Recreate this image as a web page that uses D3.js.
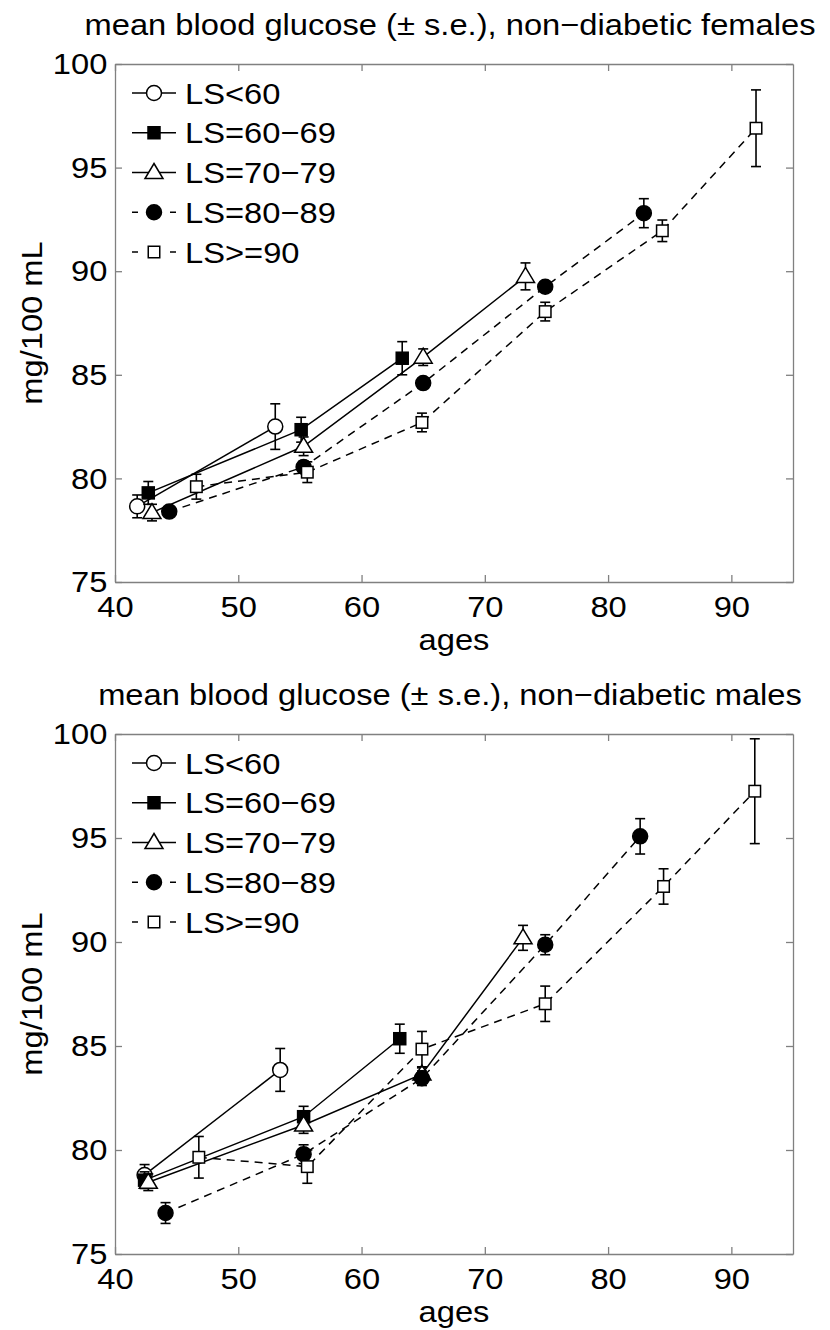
<!DOCTYPE html>
<html>
<head>
<meta charset="utf-8">
<script src="https://cdn.jsdelivr.net/npm/d3@7"></script>
<style>
  body { margin: 0; background: #fff; }
  text { font-family: "Liberation Sans", Arial, Helvetica, sans-serif; fill: #000; }
  .axis path, .axis line { stroke: #808080; stroke-width: 1.3; }
  .axis text { font-size: 30px; fill: #000; transform: scaleX(1.09); }
</style>
</head>
<body>
<script>
// legend labels, one per life-span group
var seriesNames = ["LS<60", "LS=60\u221269", "LS=70\u221279", "LS=80\u221289", "LS>=90"];
var seriesDashed = [false, false, false, true, true];
var seriesMarker = ["circleOpen", "squareFilled", "triangleOpen", "circleFilled", "squareOpen"];

var xTicks = [40, 50, 60, 70, 80, 90];
var yTicks = [75, 80, 85, 90, 95, 100];

// females
var femAges = [
  [41.8, 53.0],
  [42.7, 55.1, 63.3],
  [43.0, 55.3, 65.0, 73.3],
  [44.4, 55.3, 65.0, 74.9, 82.9],
  [46.6, 55.6, 64.9, 74.9, 84.4, 92.0]
];
var femMean = [
  [78.65, 82.5],
  [79.3, 82.35, 85.8],
  [78.35, 81.55, 85.85, 89.75],
  [78.4, 80.55, 84.6, 89.25, 92.8],
  [79.6, 80.3, 82.7, 88.05, 91.95, 96.9]
];
var femSe = [
  [0.55, 1.1],
  [0.55, 0.6, 0.8],
  [0.4, 0.45, 0.4, 0.65],
  [0.2, 0.3, 0.25, 0.25, 0.7],
  [0.6, 0.5, 0.45, 0.45, 0.52, 1.85]
];

// males
var maleAges = [
  [42.4, 53.4],
  [42.4, 55.3, 63.1],
  [42.7, 55.3, 64.9, 73.1],
  [44.1, 55.3, 64.9, 74.9, 82.6],
  [46.8, 55.6, 64.9, 74.9, 84.5, 91.9]
];
var maleMean = [
  [78.8, 83.85],
  [78.55, 81.6, 85.35],
  [78.45, 81.2, 83.65, 90.2],
  [76.97, 79.8, 83.45, 89.87, 95.08],
  [79.65, 79.2, 84.85, 87.03, 92.67, 97.25]
];
var maleSe = [
  [0.5, 1.03],
  [0.4, 0.5, 0.7],
  [0.4, 0.4, 0.3, 0.6],
  [0.5, 0.45, 0.35, 0.48, 0.85],
  [1.0, 0.8, 0.85, 0.85, 0.85, 2.52]
];

var width = 830, height = 1330;
var stretch = 1.09; // the original lettering is a bit wider than Arial

var svg = d3.select("body").append("svg")
    .attr("width", width)
    .attr("height", height);

function label(x, y, str, anchor, rot) {
  return svg.append("text")
      .attr("transform", "translate(" + x + "," + y + ")" + (rot ? " rotate(" + rot + ")" : "") + " scale(" + stretch + ",1)")
      .attr("text-anchor", anchor)
      .style("font-size", "30px")
      .text(str);
}

function drawMarker(g, type, cx, cy) {
  if (type === "circleOpen" || type === "circleFilled") {
    g.append("circle")
      .attr("cx", cx).attr("cy", cy).attr("r", 7.5)
      .attr("fill", type === "circleFilled" ? "#000" : "#fff")
      .attr("stroke", "#000").attr("stroke-width", 1.5);
  } else if (type === "squareFilled" || type === "squareOpen") {
    var s = type === "squareFilled" ? 12 : 11.5;
    g.append("rect")
      .attr("x", cx - s / 2).attr("y", cy - s / 2)
      .attr("width", s).attr("height", s)
      .attr("fill", type === "squareFilled" ? "#000" : "#fff")
      .attr("stroke", "#000").attr("stroke-width", 1.5);
  } else {
    g.append("path")
      .attr("d", "M" + cx + "," + (cy - 9) + "L" + (cx + 9) + "," + (cy + 6) + "L" + (cx - 9) + "," + (cy + 6) + "Z")
      .attr("fill", "#fff")
      .attr("stroke", "#000").attr("stroke-width", 1.5);
  }
}

function drawPanel(top, bottom, title, ages, means, ses) {
  var left = 115, right = 793;

  var x = d3.scaleLinear().domain([40, 95]).range([left, right]);
  var y = d3.scaleLinear().domain([75, 100]).range([bottom, top]);

  label(450, top - 29, title, "middle");

  // axes, ticks pointing inward on all four sides
  svg.append("g")
      .attr("class", "axis")
      .attr("transform", "translate(0," + bottom + ")")
      .call(d3.axisBottom(x).tickValues(xTicks).tickSizeInner(-7).tickSizeOuter(0).tickPadding(14));

  svg.append("g")
      .attr("class", "axis")
      .attr("transform", "translate(0," + top + ")")
      .call(d3.axisTop(x).tickValues(xTicks).tickSizeInner(-7).tickSizeOuter(0).tickFormat(""));

  svg.append("g")
      .attr("class", "axis")
      .attr("transform", "translate(" + left + ",0)")
      .call(d3.axisLeft(y).tickValues(yTicks).tickSizeInner(-7).tickSizeOuter(0).tickPadding(7));

  svg.append("g")
      .attr("class", "axis")
      .attr("transform", "translate(" + right + ",0)")
      .call(d3.axisRight(y).tickValues(yTicks).tickSizeInner(-7).tickSizeOuter(0).tickFormat(""));

  // axis labels
  label((left + right) / 2, bottom + 68, "ages", "middle");
  svg.append("text")
      .attr("transform", "translate(42," + ((top + bottom) / 2) + ") rotate(-90) scale(" + stretch + ",1)")
      .attr("text-anchor", "middle")
      .style("font-size", "30px")
      .text("mg/100 mL");

  // series
  seriesNames.forEach(function(name, i) {
    var pts = ages[i].map(function(a, j) { return [a, means[i][j], ses[i][j]]; });
    var g = svg.append("g");

    g.append("path")
      .datum(pts)
      .attr("fill", "none")
      .attr("stroke", "#000")
      .attr("stroke-width", 1.5)
      .attr("stroke-dasharray", seriesDashed[i] ? "8,6" : null)
      .attr("d", d3.line()
                   .x(function(d) { return x(d[0]); })
                   .y(function(d) { return y(d[1]); }));

    // error bars
    pts.forEach(function(d) {
      var cx = x(d[0]), y1 = y(d[1] + d[2]), y2 = y(d[1] - d[2]);
      g.append("line").attr("x1", cx).attr("x2", cx).attr("y1", y1).attr("y2", y2)
        .attr("stroke", "#000").attr("stroke-width", 1.6);
      g.append("line").attr("x1", cx - 5).attr("x2", cx + 5).attr("y1", y1).attr("y2", y1)
        .attr("stroke", "#000").attr("stroke-width", 1.6);
      g.append("line").attr("x1", cx - 5).attr("x2", cx + 5).attr("y1", y2).attr("y2", y2)
        .attr("stroke", "#000").attr("stroke-width", 1.6);
    });

    pts.forEach(function(d) {
      drawMarker(g, seriesMarker[i], x(d[0]), y(d[1]));
    });
  });

  // legend
  seriesNames.forEach(function(name, i) {
    var ly = top + 29 + i * 39.75;
    var lg = svg.append("g");
    if (seriesDashed[i]) {
      lg.append("line").attr("x1", 132).attr("x2", 138).attr("y1", ly).attr("y2", ly)
        .attr("stroke", "#000").attr("stroke-width", 1.5);
      lg.append("line").attr("x1", 170).attr("x2", 176).attr("y1", ly).attr("y2", ly)
        .attr("stroke", "#000").attr("stroke-width", 1.5);
    } else {
      lg.append("line").attr("x1", 132).attr("x2", 176).attr("y1", ly).attr("y2", ly)
        .attr("stroke", "#000").attr("stroke-width", 1.5);
    }
    drawMarker(lg, seriesMarker[i], 154, ly);
    label(185, ly + 10.7, name, "start");
  });
}

drawPanel(64, 582, "mean blood glucose (\u00b1 s.e.), non\u2212diabetic females", femAges, femMean, femSe);
drawPanel(734, 1254, "mean blood glucose (\u00b1 s.e.), non\u2212diabetic males", maleAges, maleMean, maleSe);
</script>
</body>
</html>
